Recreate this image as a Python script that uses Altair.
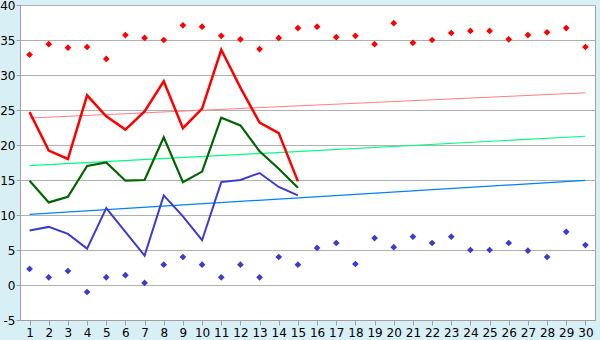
import altair as alt
import pandas as pd

days = list(range(1, 31))
days15 = list(range(1, 16))

red_pts = [32.9, 34.4, 33.9, 34.0, 32.3, 35.7, 35.3, 35.0, 37.1, 36.9,
           35.6, 35.1, 33.7, 35.3, 36.7, 36.9, 35.4, 35.6, 34.4, 37.4,
           34.6, 35.0, 36.0, 36.3, 36.3, 35.1, 35.7, 36.1, 36.7, 34.0]
blue_pts = [2.3, 1.1, 2.0, -1.0, 1.1, 1.4, 0.3, 2.9, 4.0, 2.9,
            1.1, 2.9, 1.1, 4.0, 2.9, 5.3, 6.0, 3.0, 6.7, 5.4,
            6.9, 6.0, 6.9, 5.0, 5.0, 6.0, 4.9, 4.0, 7.6, 5.7]
red_line = [24.7, 19.2, 18.0, 27.1, 24.1, 22.2, 24.8, 29.1, 22.4, 25.2,
            33.6, 28.2, 23.2, 21.7, 14.8]
green_line = [14.9, 11.8, 12.6, 17.0, 17.5, 14.9, 15.0, 21.1, 14.7, 16.2,
              23.9, 22.8, 19.1, 16.6, 13.9]
blue_line = [7.8, 8.3, 7.3, 5.2, 11.0, 7.6, 4.2, 12.8, 9.8, 6.4,
             14.7, 15.0, 16.0, 14.0, 12.8]
trend_x = [1, 30]
red_trend = [23.85, 27.45]
green_trend = [17.05, 21.25]
blue_trend = [10.1, 14.95]

xscale = alt.Scale(domain=[0.5, 30.5], nice=False, zero=False)
yscale = alt.Scale(domain=[-5, 40], nice=False)
xaxis = alt.Axis(values=days, format="d", title=None, grid=False, tickSize=5,
                 tickColor="#a0a0a0", domainColor="#a0a0a0", labelFontSize=12,
                 labelFont="DejaVu Sans", labelColor="#000", labelPadding=2,
                 labelOverlap=False)
yaxis = alt.Axis(values=list(range(-5, 41, 5)), title=None, grid=True, gridColor="#b0b0b0",
                 tickSize=4, tickColor="#a0a0a0", domainColor="#a0a0a0", labelFontSize=12,
                 labelFont="DejaVu Sans", labelColor="#000", labelPadding=1,
                 labelOverlap=False, labelExpr="replace(datum.label, '\u2212', '-')")


def line_layer(xs, ys, color, width):
    df = pd.DataFrame({"x": xs, "y": ys})
    return alt.Chart(df).mark_line(color=color, strokeWidth=width).encode(
        x=alt.X("x:Q", scale=xscale, axis=xaxis),
        y=alt.Y("y:Q", scale=yscale, axis=yaxis),
    )


def point_layer(ys, color):
    df = pd.DataFrame({"x": days, "y": ys})
    return alt.Chart(df).mark_point(shape="diamond", filled=True, size=45, opacity=1,
                                    color=color).encode(
        x=alt.X("x:Q", scale=xscale, axis=xaxis),
        y=alt.Y("y:Q", scale=yscale, axis=yaxis),
    )


layers = [
    line_layer(trend_x, red_trend, "#ff8080", 1),
    line_layer(trend_x, green_trend, "#00ff80", 1.2),
    line_layer(trend_x, blue_trend, "#0080ff", 1.2),
    line_layer(days15, blue_line, "#3c3ccc", 2),
    line_layer(days15, green_line, "#006400", 2.2),
    line_layer(days15, red_line, "#ff0000", 2.5),
    point_layer(red_pts, "#ff0000"),
    point_layer(blue_pts, "#3c3ccc"),
]

chart = alt.layer(*layers).properties(
    width=575, height=315,
    background="#d9eff6",
    padding={"left": 20, "top": 5, "right": 5, "bottom": 20},
    autosize=alt.AutoSizeParams(type="none"),
).configure_view(stroke="#a0a0a0", fill="white")

chart.save("out.html", embed_options={"renderer": "svg", "actions": False})
